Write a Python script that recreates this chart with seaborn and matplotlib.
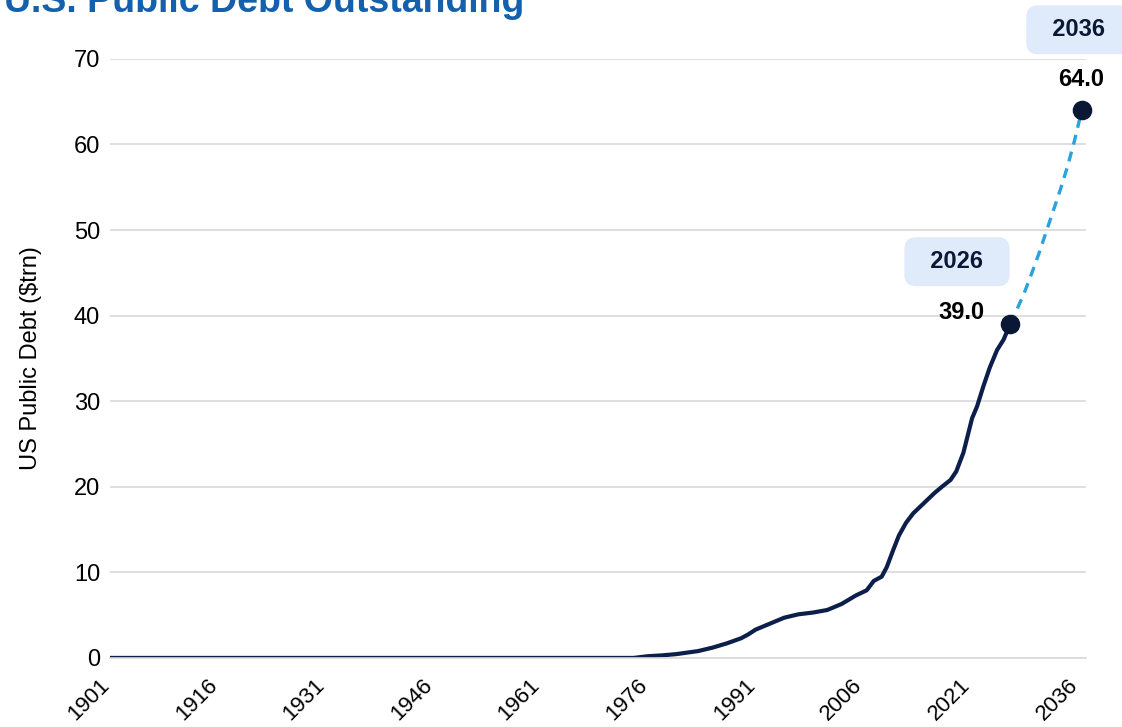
import matplotlib
matplotlib.use("Agg")
import matplotlib.pyplot as plt
import matplotlib.transforms as mtransforms
import seaborn as sns
import pandas as pd

# Datos historicos (trillones de USD)
hist_years = [1901, 1940, 1974, 1976, 1978, 1980, 1983, 1985, 1987, 1989, 1990, 1991,
              1993, 1995, 1997, 1999, 2001, 2003, 2005, 2006.5, 2007.5, 2008.6, 2009.3,
              2010.2, 2011, 2012, 2013, 2014, 2015, 2016, 2017, 2018.2, 2019, 2020,
              2020.6, 2021.2, 2021.9, 2022.8, 2023.7, 2024.7, 2025.6, 2026.5]
hist_debt = [0.0, 0.0, 0.0, 0.2, 0.3, 0.45, 0.8, 1.2, 1.7, 2.3, 2.75, 3.3,
             4.0, 4.7, 5.1, 5.3, 5.6, 6.3, 7.3, 7.9, 9.0, 9.5, 10.6,
             12.6, 14.3, 15.8, 16.9, 17.7, 18.5, 19.3, 20.0, 20.8, 21.8, 24.0,
             26.0, 28.0, 29.4, 31.8, 34.0, 36.0, 37.2, 39.0]

# Proyeccion
proj_years = [2026.5, 2027.5, 2028.5, 2029.5, 2030.5, 2031.5, 2032.5, 2033.5, 2034.5, 2035.5, 2036.5]
proj_debt = [39.0, 40.8, 42.7, 44.9, 47.2, 49.7, 52.2, 54.7, 57.4, 60.5, 64.0]

tick_years = [1901, 1916, 1931, 1946, 1961, 1976, 1991, 2006, 2021, 2036]
y_ticks = [0, 10, 20, 30, 40, 50, 60, 70]

df_hist = pd.DataFrame({"year": hist_years, "debt": hist_debt})
df_proj = pd.DataFrame({"year": proj_years, "debt": proj_debt})
df_end = pd.DataFrame({"year": [hist_years[-1], proj_years[-1]],
                       "debt": [hist_debt[-1], proj_debt[-1]]})

sns.set_style("white")
plt.rcParams["font.family"] = ["Liberation Sans", "DejaVu Sans"]

fig = plt.figure(figsize=(11.22, 7.27), dpi=100)
ax = fig.add_axes([0.098, 0.095, 0.870, 0.824])

navy = "#0c1f4b"
sns.lineplot(data=df_hist, x="year", y="debt", ax=ax, color=navy, linewidth=3.0, sort=False)
sns.lineplot(data=df_proj, x="year", y="debt", ax=ax, color="#29a3dd", linewidth=2.4,
             linestyle=(0, (3, 2.2)), sort=False)
sns.scatterplot(data=df_end, x="year", y="debt", ax=ax, color="#0a1836", s=170,
                edgecolor="#0a1836", zorder=5, clip_on=False)

# Ejes
ax.set_xlim(1901, 2037.1)
ax.set_ylim(0, 70)
ax.set_xticks(tick_years)
ax.set_xticklabels([str(t) for t in tick_years], rotation=45, ha="right", va="top",
                   rotation_mode="anchor", fontsize=16, color="black")
ax.set_yticks(y_ticks)
ax.set_yticklabels([str(t) for t in y_ticks], fontsize=17, color="black")
ax.tick_params(axis="x", length=6, color="#d9d9d9", width=1.2, pad=8)
ax.tick_params(axis="y", length=0, pad=7)
# mover etiquetas un poco a la izquierda (despues de tick_params)
offset = mtransforms.ScaledTranslation(-11 / 100, 3 / 100, fig.dpi_scale_trans)
for lbl in ax.get_xticklabels():
    lbl.set_transform(lbl.get_transform() + offset)
ax.yaxis.grid(True, color="#d9d9d9", linewidth=1.2)
for s in ["top", "right", "left"]:
    ax.spines[s].set_visible(False)
ax.spines["bottom"].set_color("#d9d9d9")
ax.spines["bottom"].set_linewidth(1.2)
ax.set_xlabel("")
ax.set_ylabel("US Public Debt ($trn)", fontsize=17, labelpad=23, color="black")

# Etiquetas
box = dict(boxstyle="round,pad=0.55,rounding_size=0.5", facecolor="#dfeafb", edgecolor="none")
ax.text(2019.1, 46.3, "  2026  ", ha="center", va="center", fontsize=17, weight="bold",
        color="#0a1836", bbox=box)
ax.text(2023.0, 40.4, "39.0", ha="right", va="center", fontsize=17, weight="bold", color="black")
ax.text(2036.1, 73.4, "  2036  ", ha="center", va="center", fontsize=17, weight="bold",
        color="#0a1836", bbox=box, clip_on=False)
ax.text(2036.4, 67.6, "64.0", ha="center", va="center", fontsize=17, weight="bold",
        color="black", clip_on=False)

# Titulo
fig.text(0.004, 1 - 12 / 727, "U.S. Public Debt Outstanding", ha="left", va="baseline",
         fontsize=27, weight="bold", color="#1560ac")

fig.savefig("out.png", dpi=100)
